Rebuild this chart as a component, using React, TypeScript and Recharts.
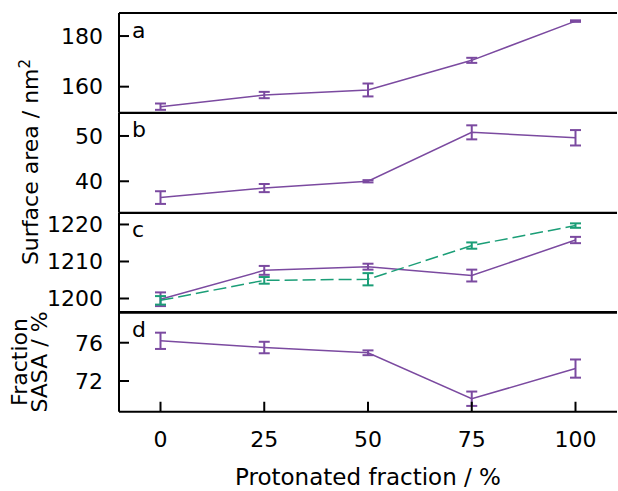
import { LineChart, Line, XAxis, YAxis, ErrorBar } from 'recharts'

// protonated fraction (%)
const fractions = [0, 25, 50, 75, 100]
const xTicks = [0, 25, 50, 75, 100]

// panel a: surface area (nm^2)
const areaA = [152.1, 156.7, 158.7, 170.4, 185.9]
const errA = [1.25, 1.25, 2.55, 1.0, 0.3]
const ticksA = [160, 180]

// panel b
const areaB = [36.4, 38.5, 40.0, 50.8, 49.6]
const errB = [1.4, 0.9, 0.25, 1.55, 1.7]
const ticksB = [40, 50]

// panel c: two series
const areaC1 = [1199.8, 1207.6, 1208.6, 1206.2, 1215.8]
const errC1 = [1.85, 1.2, 0.8, 1.6, 0.85]
const areaC2 = [1199.5, 1204.9, 1205.2, 1214.3, 1219.7]
const errC2 = [1.15, 0.9, 1.65, 0.85, 0.6]
const ticksC = [1200, 1210, 1220]

// panel d: fraction SASA (%)
const sasaD = [76.2, 75.5, 74.95, 70.15, 73.3]
const errD = [0.85, 0.6, 0.25, 0.75, 0.95]
const ticksD = [72, 76]

const purple = '#7b4aa0'
const green = '#1b9e77'
const font = '"DejaVu Sans", sans-serif'

const W = 618
const TOP = 13
const PH = 99.75
const PAD = 5

type Series = { values: number[]; errors: number[]; color: string; dashed?: boolean }

function rows(series: Series[]) {
  return fractions.map((x, i) => {
    const r: any = { x }
    series.forEach((s, j) => {
      r['v' + j] = s.values[i]
      r['e' + j] = s.errors[i]
    })
    return r
  })
}

const axisLine = { stroke: '#000', strokeWidth: 2 }
const tickLine = { stroke: '#000', strokeWidth: 2 }
const tickText = { fontSize: 22, fill: '#000', fontFamily: font }

function Panel({ index, domain, ticks, series, last }: {
  index: number
  domain: [number, number]
  ticks: number[]
  series: Series[]
  last?: boolean
}) {
  const top = TOP + index * PH
  const bottom = last ? 491 - (top + PH) : PAD
  return (
    <div style={{ position: 'absolute', left: 0, top: top - PAD }}>
      <LineChart width={W} height={PH + PAD + bottom} data={rows(series)} margin={{ top: 0, right: 1, bottom: 0, left: 0 }}>
        <XAxis xAxisId="b" dataKey="x" type="number" domain={[-10, 110]} ticks={xTicks} allowDataOverflow
          orientation="bottom" height={bottom} tickSize={-10} tickMargin={30}
          tick={last ? tickText : false} axisLine={axisLine} tickLine={tickLine} />
        <XAxis xAxisId="t" dataKey="x" type="number" domain={[-10, 110]} ticks={xTicks} allowDataOverflow
          orientation="top" height={PAD} tickSize={-10} tick={false} axisLine={axisLine} tickLine={tickLine} />
        <YAxis yAxisId="l" type="number" domain={domain} ticks={ticks} allowDataOverflow width={119}
          tickSize={-10} tickMargin={26} tick={tickText} axisLine={axisLine} tickLine={tickLine} />
        <YAxis yAxisId="r" orientation="right" type="number" domain={domain} ticks={ticks} allowDataOverflow width={0}
          tickSize={-10} tick={false} axisLine={axisLine} tickLine={tickLine} />
        {series.map((s, j) => (
          <Line key={j} xAxisId="b" yAxisId="l" dataKey={'v' + j} stroke={s.color} strokeWidth={1.5}
            strokeDasharray={s.dashed ? '13 5' : undefined} dot={false} activeDot={false} isAnimationActive={false}>
            <ErrorBar dataKey={'e' + j} width={5.5} stroke={s.color} strokeWidth={2} direction="y" />
          </Line>
        ))}
      </LineChart>
    </div>
  )
}

export default function App() {
  const letters = ['a', 'b', 'c', 'd']
  return (
    <div style={{ position: 'absolute', left: 0, top: 0, width: W, height: 491, background: '#fff', fontFamily: font }}>
      <Panel index={0} domain={[149.7, 189.1]} ticks={ticksA} series={[{ values: areaA, errors: errA, color: purple }]} />
      <Panel index={1} domain={[33.05, 55.07]} ticks={ticksB} series={[{ values: areaB, errors: errB, color: purple }]} />
      <Panel index={2} domain={[1196.15, 1223.1]} ticks={ticksC} series={[
        { values: areaC1, errors: errC1, color: purple },
        { values: areaC2, errors: errC2, color: green, dashed: true },
      ]} />
      <Panel index={3} domain={[68.79, 79.21]} ticks={ticksD} series={[{ values: sasaD, errors: errD, color: purple }]} last />
      <svg width={W} height={491} style={{ position: 'absolute', left: 0, top: 0, pointerEvents: 'none' }}>
        <g fontFamily={font} fontSize={22} fill="#000">
          {letters.map((l, i) => (
            <text key={l} x={132} y={TOP + i * PH + 24.5}>{l}</text>
          ))}
          <text x={368} y={485} textAnchor="middle" fontSize={23}>Protonated fraction / %</text>
          <text transform="translate(38,162) rotate(-90)" textAnchor="middle">
            Surface area / nm<tspan dy={-8} fontSize={15}>2</tspan>
          </text>
          <text transform="translate(27,362) rotate(-90)" textAnchor="middle">Fraction</text>
          <text transform="translate(47,362) rotate(-90)" textAnchor="middle">SASA / %</text>
        </g>
      </svg>
    </div>
  )
}
